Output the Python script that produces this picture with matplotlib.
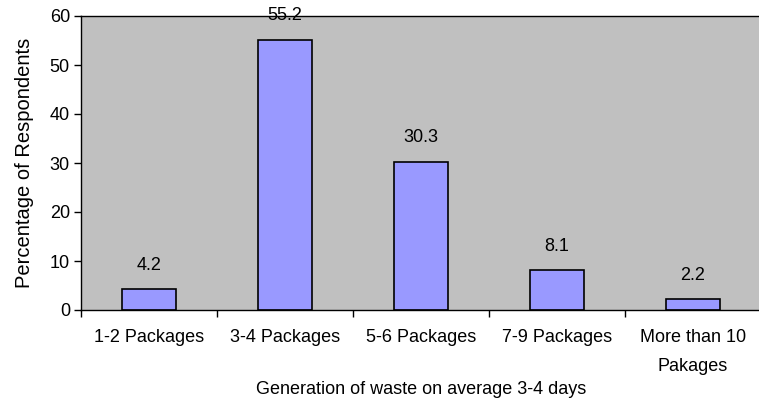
import numpy as np
import matplotlib.pyplot as plt

plt.rcParams['font.family'] = ['Liberation Sans', 'DejaVu Sans']

categories = ['1-2 Packages', '3-4 Packages', '5-6 Packages', '7-9 Packages',
              'More than 10\nPakages']
percentages = [4.2, 55.2, 30.3, 8.1, 2.2]

fig = plt.figure(figsize=(7.59, 4.0), dpi=100)
ax = fig.add_axes([81 / 759, 90 / 400, 680 / 759, 294 / 400])
ax.set_facecolor('#c0c0c0')

x = np.arange(len(categories))
bars = ax.bar(x, percentages, width=0.4, color='#9999ff',
              edgecolor='black', linewidth=1.2, zorder=2)

# value above each bar
for xi, v in zip(x, percentages):
    ax.annotate(f'{v}', (xi, v), xytext=(0, 11), textcoords='offset points',
                ha='center', va='bottom', fontsize=13, clip_on=False)

ax.set_xlim(-0.5, len(categories) - 0.5)
ax.set_ylim(0, 60)
ax.set_yticks(np.arange(0, 61, 10))

# labels at category centres, tick marks at category boundaries
ax.set_xticks(x)
ax.set_xticklabels(categories, fontsize=13, linespacing=1.9)
ax.set_xticks(np.arange(-0.5, len(categories)), minor=True)
ax.tick_params(axis='x', which='major', length=0, pad=14)
ax.tick_params(axis='x', which='minor', length=5, width=1, direction='out')
ax.tick_params(axis='y', length=5, width=1, direction='out', labelsize=13, pad=3)

for s in ax.spines.values():
    s.set_color('black')
    s.set_linewidth(1)

ax.set_ylabel('Percentage of Respondents', fontsize=14.5, labelpad=11)
ax.set_xlabel('Generation of waste on average 3-4 days', fontsize=13, labelpad=4)

fig.savefig('out.png', dpi=100)
